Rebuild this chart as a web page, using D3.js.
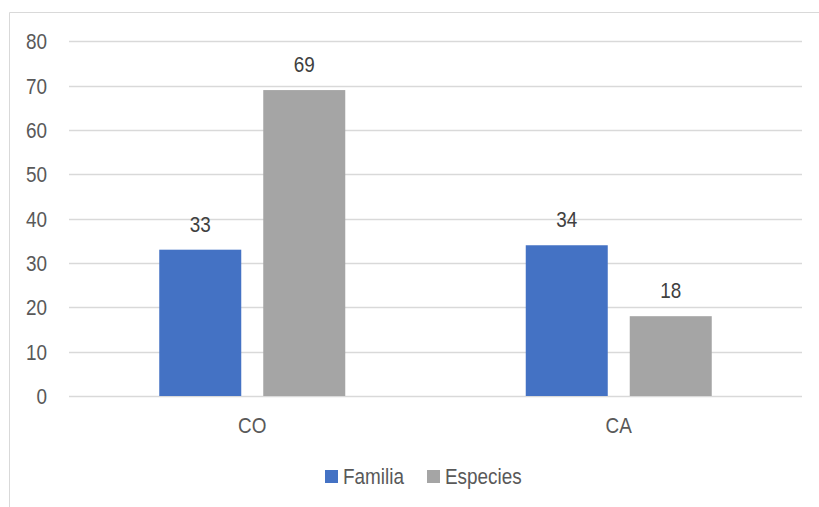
<!DOCTYPE html>
<html>
<head>
<meta charset="utf-8">
<script src="https://cdn.jsdelivr.net/npm/d3@7"></script>
<style>
body { margin: 0; background: #fff; }
text { font-family: "Liberation Sans", Arial, sans-serif; fill: #595959; }
</style>
</head>
<body>
<div id="vis"></div>
<script>
var w = 819,
    h = 507;

var categories = ["CO", "CA"];
var seriesNames = ["Familia", "Especies"];
var familia = [33, 34];
var especies = [69, 18];
var yTicks = [0, 10, 20, 30, 40, 50, 60, 70, 80];
var colors = ["#4472C4", "#A5A5A5"];

var plotL = 69, plotR = 802, plotT = 41.3, plotB = 396;
var fs = "22px";
// the original font is a bit condensed, squeeze the glyphs horizontally
var sx = 0.86;
var place = function(x, y){ return "translate(" + x + "," + y + ") scale(" + sx + ",1)"; };

var svg = d3.select("#vis").append("svg")
    .attr("width", w)
    .attr("height", h);

// chart frame (only left and top edges fall inside the picture)
svg.append("path")
    .attr("d", "M 9.5 " + h + " L 9.5 12.5 L " + w + " 12.5")
    .style("fill", "none")
    .style("stroke", "#D9D9D9")
    .style("stroke-width", 1);

var y = d3.scaleLinear().domain([0, 80]).range([plotB, plotT]);
var x0 = d3.scaleBand().domain(categories).range([plotL, plotR]).paddingInner(0).paddingOuter(0);
var x1 = d3.scaleBand().domain(seriesNames).range([0, 186]).paddingInner(22/104);

// gridlines
svg.selectAll("line.grid")
    .data(yTicks)
    .enter().append("line")
    .attr("class", "grid")
    .attr("x1", plotL).attr("x2", plotR)
    .attr("y1", function(d){ return Math.round(y(d)) + 0.5; })
    .attr("y2", function(d){ return Math.round(y(d)) + 0.5; })
    .style("stroke", "#D9D9D9")
    .style("stroke-width", 1.5);

// y tick labels
svg.selectAll("text.ytick")
    .data(yTicks)
    .enter().append("text")
    .attr("class", "ytick")
    .attr("transform", function(d){ return place(47, y(d)); })
    .attr("dy", "0.36em")
    .attr("text-anchor", "end")
    .style("font-size", fs)
    .text(function(d){ return d; });

var rows = [];
categories.forEach(function(c, i){
    rows.push({cat: c, s: seriesNames[0], v: familia[i], col: colors[0]});
    rows.push({cat: c, s: seriesNames[1], v: especies[i], col: colors[1]});
});

var groupOff = function(c){ return x0(c) + x0.bandwidth()/2 - 93; };

svg.selectAll("rect.bar")
    .data(rows)
    .enter().append("rect")
    .attr("class", "bar")
    .attr("x", function(d){ return groupOff(d.cat) + x1(d.s); })
    .attr("y", function(d){ return y(d.v); })
    .attr("width", x1.bandwidth())
    .attr("height", function(d){ return y(0) - y(d.v); })
    .style("fill", function(d){ return d.col; });

svg.selectAll("text.val")
    .data(rows)
    .enter().append("text")
    .attr("class", "val")
    .attr("transform", function(d){
        return place(groupOff(d.cat) + x1(d.s) + x1.bandwidth()/2, y(d.v) - 18);
    })
    .attr("text-anchor", "middle")
    .style("font-size", fs)
    .style("fill", "#404040")
    .text(function(d){ return d.v; });

// category labels
svg.selectAll("text.cat")
    .data(categories)
    .enter().append("text")
    .attr("class", "cat")
    .attr("transform", function(d){ return place(x0(d) + x0.bandwidth()/2, 432.5); })
    .attr("text-anchor", "middle")
    .style("font-size", fs)
    .text(function(d){ return d; });

// legend
var legX = [325, 427];
var leg = svg.selectAll("g.leg")
    .data(seriesNames)
    .enter().append("g")
    .attr("class", "leg")
    .attr("transform", function(d, i){ return "translate(" + legX[i] + ",470)"; });
leg.append("rect")
    .attr("width", 13).attr("height", 13)
    .style("fill", function(d, i){ return colors[i]; });
leg.append("text")
    .attr("transform", place(18, 14))
    .style("font-size", fs)
    .text(function(d){ return d; });
</script>
</body>
</html>
